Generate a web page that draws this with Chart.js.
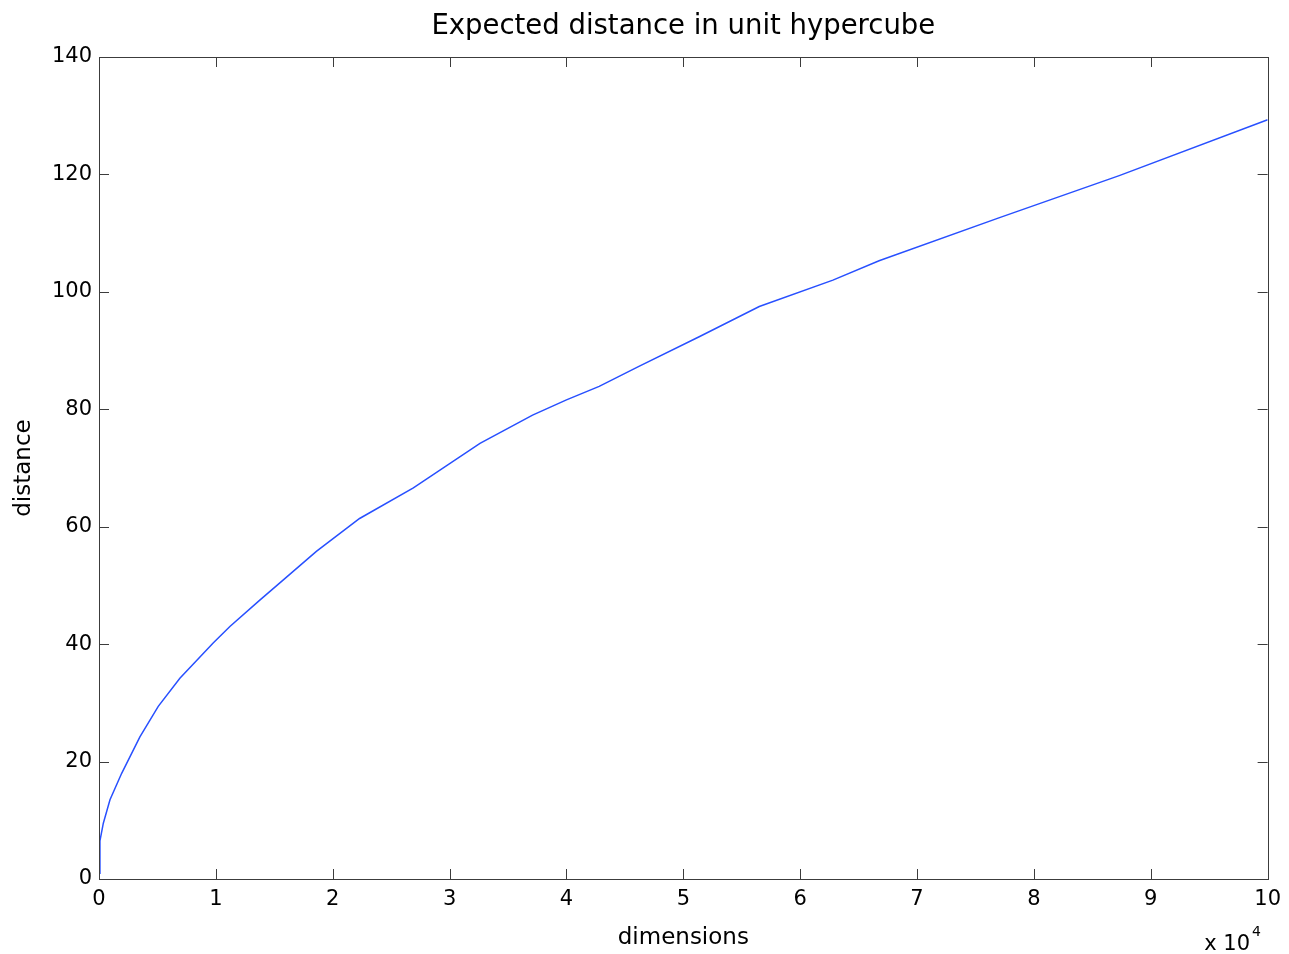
<!DOCTYPE html>
<html>
<head>
<meta charset="utf-8">
<title>Expected distance in unit hypercube</title>
<script src="https://cdn.jsdelivr.net/npm/chart.js@4"></script>
<style>
  html, body { margin: 0; padding: 0; background: #fff; }
  #wrap { width: 1289px; height: 954px; position: relative; }
</style>
</head>
<body>
<div id="wrap"><canvas id="distGraph"></canvas></div>
<script>
// dimensions, in units of 10^4
const dimensions = [0, 0.008, 0.037, 0.094, 0.194, 0.35, 0.507, 0.692, 0.977, 1.12, 1.376, 1.575,
  1.86, 2.23, 2.69, 3.26, 3.71, 4.0, 4.28, 4.62, 5.14, 5.65, 6.28, 6.675, 7.7, 8.73, 10];
// expected distance at each dimension
const distance = [1.0, 6.5, 9.5, 13.5, 18.0, 24.2, 29.4, 34.2, 40.2, 43.0, 47.5, 50.9,
  55.8, 61.4, 66.6, 74.2, 79.0, 81.6, 83.9, 87.3, 92.4, 97.5, 102.0, 105.3, 112.6, 119.8, 129.3];

const xTicks = [0, 1, 2, 3, 4, 5, 6, 7, 8, 9, 10];
const yTicks = [0, 20, 40, 60, 80, 100, 120, 140];

const chartTitle = 'Expected distance in unit hypercube';
const axisColor = '#3c3c3c';
const fontFamily = '"DejaVu Sans", sans-serif';

// matlab style box with inward ticks on all four sides, the title over the
// plot area and the x 10^4 note
const boxPlugin = {
  id: 'matlabBox',
  afterDraw(chart) {
    const { ctx, chartArea: { left, right, top, bottom }, scales: { x, y } } = chart;
    const tl = 10;
    ctx.save();
    ctx.strokeStyle = axisColor;
    ctx.lineWidth = 1;
    ctx.beginPath();
    x.ticks.forEach(t => {
      const px = Math.round(x.getPixelForValue(t.value)) + 0.5;
      ctx.moveTo(px, bottom); ctx.lineTo(px, bottom - tl);
      ctx.moveTo(px, top); ctx.lineTo(px, top + tl);
    });
    y.ticks.forEach(t => {
      const py = Math.round(y.getPixelForValue(t.value)) + 0.5;
      ctx.moveTo(left, py); ctx.lineTo(left + tl, py);
      ctx.moveTo(right, py); ctx.lineTo(right - tl, py);
    });
    ctx.stroke();
    ctx.strokeRect(Math.round(left) + 0.5, Math.round(top) + 0.5,
      Math.round(right - left), Math.round(bottom - top));

    ctx.fillStyle = '#000';

    // title, centred on the axes box like matlab does
    ctx.textAlign = 'center';
    ctx.textBaseline = 'alphabetic';
    ctx.font = '27.5px ' + fontFamily;
    ctx.fillText(chartTitle, (left + right) / 2, 34);

    // exponent label under the right end of the x axis
    ctx.textAlign = 'right';
    ctx.font = '21px ' + fontFamily;
    ctx.fillText('x 10', 1250, 950);
    ctx.textAlign = 'left';
    ctx.font = '14px ' + fontFamily;
    ctx.fillText('4', 1252, 936);
    ctx.restore();
  }
};

const ctx = document.getElementById('distGraph').getContext('2d');

new Chart(ctx, {
  type: 'line',
  data: {
    datasets: [{
      label: 'distance',
      data: dimensions.map((d, i) => ({ x: d, y: distance[i] })),
      borderColor: 'rgb(40, 80, 255)',
      borderWidth: 1.5,
      pointRadius: 0,
      tension: 0,
      fill: false
    }]
  },
  options: {
    responsive: true,
    maintainAspectRatio: false,
    animation: false,
    layout: { padding: { top: 57, right: 20, bottom: 0, left: 0 } },
    plugins: {
      legend: { display: false },
      tooltip: { enabled: false },
      title: { display: false }
    },
    scales: {
      x: {
        type: 'linear',
        min: 0,
        max: 10,
        afterBuildTicks: scale => { scale.ticks = xTicks.map(v => ({ value: v })); },
        afterFit: scale => { scale.height = 75; },
        grid: { display: false, drawTicks: false },
        border: { display: false },
        ticks: {
          color: '#000',
          padding: 8,
          maxRotation: 0,
          font: { family: fontFamily, size: 21 }
        },
        title: {
          display: true,
          text: 'dimensions',
          color: '#000',
          font: { family: fontFamily, size: 23 },
          padding: { top: 0, bottom: 2 }
        }
      },
      y: {
        min: 0,
        max: 140,
        afterBuildTicks: scale => { scale.ticks = yTicks.map(v => ({ value: v })); },
        afterFit: scale => { scale.width = 99; },
        grid: { display: false, drawTicks: false },
        border: { display: false },
        ticks: {
          color: '#000',
          padding: 7,
          font: { family: fontFamily, size: 21 }
        },
        title: {
          display: true,
          text: 'distance',
          color: '#000',
          font: { family: fontFamily, size: 23 },
          padding: { top: 10, bottom: 0 }
        }
      }
    }
  },
  plugins: [boxPlugin]
});
</script>
</body>
</html>
